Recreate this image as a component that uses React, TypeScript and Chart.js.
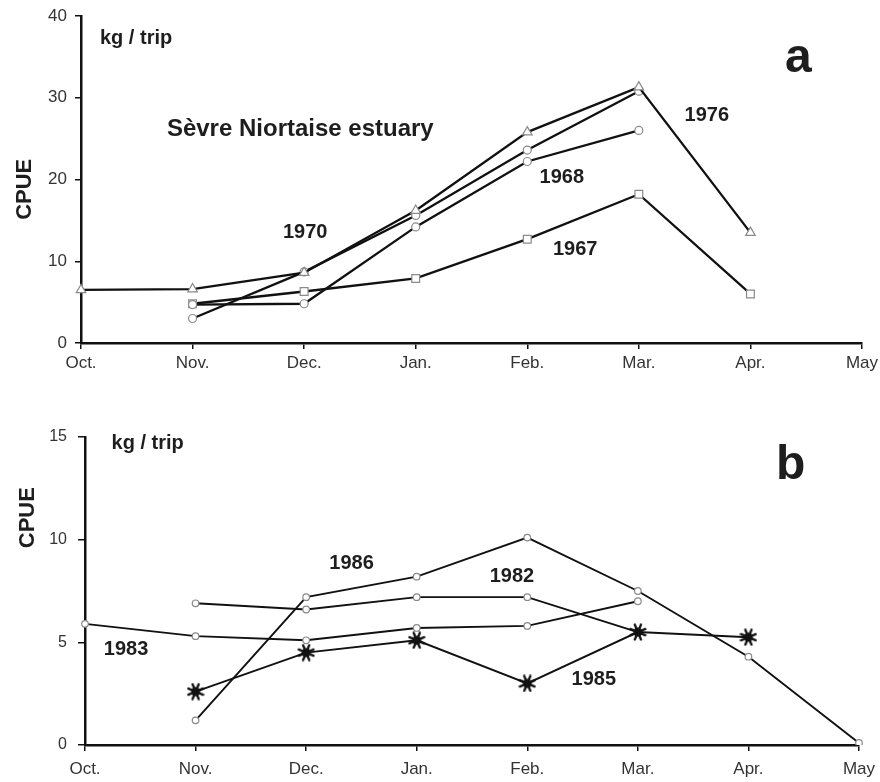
import React, { useEffect, useRef } from 'react';
import { Chart, registerables } from 'chart.js';

Chart.register(...registerables);

// ---------- shared categories ----------
const months = ['Oct.', 'Nov.', 'Dec.', 'Jan.', 'Feb.', 'Mar.', 'Apr.', 'May'];

// ---------- panel a (kg / trip) ----------
const yMaxA = 40;
const yStepA = 10;
const a1976 = [6.5, 6.6, 8.6, 16.2, 25.8, 31.3, 13.5, null];
const a1970 = [null, 3.0, 8.7, 15.6, 23.6, 30.8, null, null];
const a1968 = [null, 4.7, 4.8, 14.2, 22.2, 26.0, null, null];
const a1967 = [null, 4.8, 6.3, 7.9, 12.7, 18.2, 6.0, null];

// ---------- panel b (kg / trip) ----------
const yMaxB = 15;
const yStepB = 5;
const b1986 = [null, 1.2, 7.2, 8.2, 10.1, 7.5, 4.3, 0.1];
const b1982 = [null, 6.9, 6.6, 7.2, 7.2, 5.5, null, null];
const b1983 = [5.9, 5.3, 5.1, 5.7, 5.8, 7.0, null, null];
const b1985 = [null, 2.6, 4.5, 5.1, 3.0, 5.5, 5.25, null];

// ---------- text annotations (placed in data coordinates) ----------
type Note = {
  text: string;
  x: number;
  y: number;
  size: number;
  baseline?: CanvasTextBaseline;
  rotate?: boolean;
};

const notesA: Note[] = [
  { text: 'CPUE', x: -0.5, y: 18.8, size: 22, rotate: true },
  { text: 'kg / trip', x: 0.17, y: 37.3, size: 20 },
  { text: 'Sèvre Niortaise estuary', x: 0.77, y: 26.1, size: 24 },
  { text: '1970', x: 1.81, y: 13.5, size: 20 },
  { text: '1968', x: 4.11, y: 20.2, size: 20 },
  { text: '1967', x: 4.23, y: 11.4, size: 20 },
  { text: '1976', x: 5.41, y: 27.8, size: 20 },
  { text: 'a', x: 6.31, y: 33.2, size: 48, baseline: 'alphabetic' },
];

const notesB: Note[] = [
  { text: 'CPUE', x: -0.52, y: 11.07, size: 22, rotate: true },
  { text: 'kg / trip', x: 0.24, y: 14.66, size: 20 },
  { text: '1986', x: 2.21, y: 8.83, size: 20 },
  { text: '1982', x: 3.66, y: 8.2, size: 20 },
  { text: '1983', x: 0.17, y: 4.66, size: 20 },
  { text: '1985', x: 4.4, y: 3.2, size: 20 },
  { text: 'b', x: 6.25, y: 12.96, size: 48, baseline: 'alphabetic' },
];

const FONT = '"Liberation Sans", Arial, Helvetica, sans-serif';

const notesPlugin = {
  id: 'notes',
  afterDraw(chart: any, _args: any, opts: any) {
    const notes: Note[] = opts.items || [];
    const { ctx, scales } = chart;
    ctx.save();
    ctx.fillStyle = '#1e1e1e';
    for (const n of notes) {
      const px = scales.x.getPixelForValue(n.x);
      const py = scales.y.getPixelForValue(n.y);
      ctx.font = `bold ${n.size}px ${FONT}`;
      if (n.rotate) {
        ctx.save();
        ctx.translate(px, py);
        ctx.rotate(-Math.PI / 2);
        ctx.textAlign = 'center';
        ctx.textBaseline = 'middle';
        ctx.fillText(n.text, 0, 0);
        ctx.restore();
      } else {
        ctx.textAlign = 'left';
        ctx.textBaseline = n.baseline || 'middle';
        ctx.fillText(n.text, px, py);
      }
    }
    ctx.restore();
  },
};

// dense asterisk marker (8 arms + solid centre), used for the 1985 series
function makeStar(): HTMLCanvasElement {
  const c = document.createElement('canvas');
  const s = 18;
  c.width = s;
  c.height = s;
  const g = c.getContext('2d')!;
  const m = s / 2;
  g.strokeStyle = '#111';
  g.fillStyle = '#111';
  g.lineWidth = 2.4;
  g.lineCap = 'round';
  for (let i = 0; i < 8; i++) {
    const ang = (i * Math.PI) / 4 + Math.PI / 8;
    const r = 8;
    g.beginPath();
    g.moveTo(m, m);
    g.lineTo(m + r * Math.cos(ang), m + r * Math.sin(ang));
    g.stroke();
  }
  g.beginPath();
  g.arc(m, m, 4.5, 0, Math.PI * 2);
  g.fill();
  return c;
}

type SeriesDef = { label: string; data: (number | null)[]; style: string };

function makeDataset(s: SeriesDef, lineWidth: number, circleR: number, star: HTMLCanvasElement) {
  const isStar = s.style === 'star';
  const r = isStar ? 9 : s.style === 'circle' ? circleR : 5.5;
  return {
    label: s.label,
    data: s.data,
    borderColor: '#111',
    borderWidth: lineWidth,
    pointStyle: isStar ? star : s.style,
    pointRadius: r,
    pointHoverRadius: r,
    pointBackgroundColor: '#fff',
    pointBorderColor: '#8a8a8a',
    pointBorderWidth: 1.2,
    tension: 0,
    fill: false,
    spanGaps: false,
  };
}

type PanelCfg = {
  width: number;
  height: number;
  left: number;
  right: number;
  top: number;
  bottom: number;
  yMax: number;
  yStep: number;
  series: SeriesDef[];
  notes: Note[];
  lineWidth: number;
  circleR: number;
  yTickSize: number;
  yTickPad: number;
  yTickLen: number;
  xTickSize: number;
  xTickPad: number;
};

function Panel({ cfg }: { cfg: PanelCfg }) {
  const ref = useRef<HTMLCanvasElement | null>(null);
  useEffect(() => {
    if (!ref.current) return;
    const star = makeStar();
    const chart = new Chart(ref.current, {
      type: 'line',
      data: {
        labels: months,
        datasets: cfg.series.map((s) => makeDataset(s, cfg.lineWidth, cfg.circleR, star)) as any,
      },
      plugins: [notesPlugin as any],
      options: {
        responsive: false,
        animation: false,
        devicePixelRatio: 1,
        events: [],
        layout: {
          padding: { top: cfg.top, left: 0, right: cfg.width - cfg.right, bottom: 0 },
        },
        plugins: {
          legend: { display: false },
          tooltip: { enabled: false },
          notes: { items: cfg.notes },
        } as any,
        scales: {
          x: {
            type: 'category',
            offset: false,
            grid: {
              display: true,
              drawOnChartArea: false,
              drawTicks: true,
              tickLength: 6,
              color: '#111',
              lineWidth: 1.5,
            },
            border: { display: true, color: '#111', width: 2.5 },
            ticks: {
              color: '#333',
              font: { family: FONT, size: cfg.xTickSize },
              padding: cfg.xTickPad,
              maxRotation: 0,
              autoSkip: false,
            },
            afterFit(scale: any) {
              scale.height = cfg.height - cfg.bottom;
              scale.paddingLeft = 0;
              scale.paddingRight = 0;
            },
          },
          y: {
            type: 'linear',
            min: 0,
            max: cfg.yMax,
            grid: {
              display: true,
              drawOnChartArea: false,
              drawTicks: true,
              tickLength: cfg.yTickLen,
              color: '#111',
              lineWidth: 1.5,
            },
            border: { display: true, color: '#111', width: 2.5 },
            ticks: {
              stepSize: cfg.yStep,
              color: '#333',
              font: { family: FONT, size: cfg.yTickSize },
              padding: cfg.yTickPad,
            },
            afterFit(scale: any) {
              scale.width = cfg.left;
              scale.paddingTop = 0;
              scale.paddingBottom = 0;
            },
          },
        },
      } as any,
    });
    return () => chart.destroy();
  }, [cfg]);
  return <canvas ref={ref} width={cfg.width} height={cfg.height} style={{ display: 'block' }} />;
}

// note: Chart.js paints the first dataset last (on top)
const cfgA: PanelCfg = {
  width: 880,
  height: 390,
  left: 81,
  right: 862,
  top: 16,
  bottom: 343,
  yMax: yMaxA,
  yStep: yStepA,
  series: [
    { label: '1976', data: a1976, style: 'triangle' },
    { label: '1970', data: a1970, style: 'circle' },
    { label: '1968', data: a1968, style: 'circle' },
    { label: '1967', data: a1967, style: 'rect' },
  ],
  notes: notesA,
  lineWidth: 2.3,
  circleR: 4,
  yTickSize: 17,
  yTickPad: 8,
  yTickLen: 6,
  xTickSize: 17,
  xTickPad: 4,
};

const cfgB: PanelCfg = {
  width: 880,
  height: 392,
  left: 85,
  right: 859,
  top: 47,
  bottom: 355,
  yMax: yMaxB,
  yStep: yStepB,
  series: [
    { label: '1985', data: b1985, style: 'star' },
    { label: '1986', data: b1986, style: 'circle' },
    { label: '1982', data: b1982, style: 'circle' },
    { label: '1983', data: b1983, style: 'circle' },
  ],
  notes: notesB,
  lineWidth: 1.9,
  circleR: 3.3,
  yTickSize: 16,
  yTickPad: 11,
  yTickLen: 7,
  xTickSize: 17,
  xTickPad: 8,
};

export default function App() {
  return (
    <div style={{ position: 'fixed', left: 0, top: 0, width: 880, height: 782, background: '#fff' }}>
      <div style={{ position: 'absolute', left: 0, top: 0 }}>
        <Panel cfg={cfgA} />
      </div>
      <div style={{ position: 'absolute', left: 0, top: 390 }}>
        <Panel cfg={cfgB} />
      </div>
    </div>
  );
}
